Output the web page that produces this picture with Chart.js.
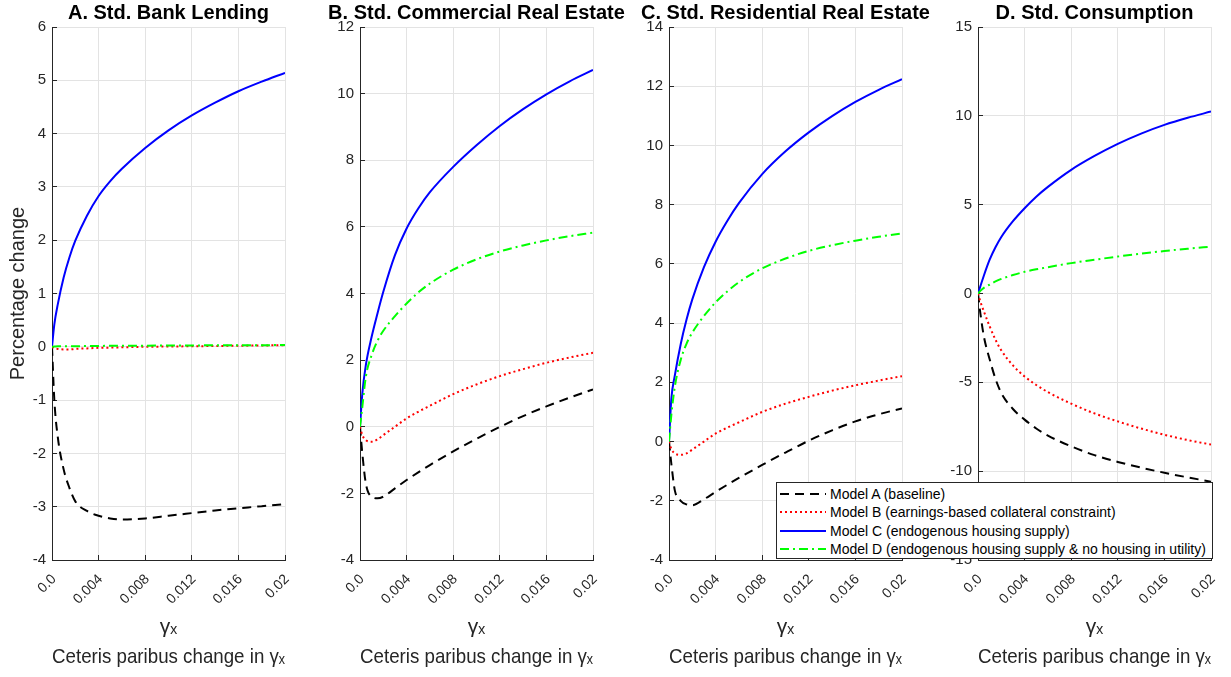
<!DOCTYPE html>
<html>
<head>
<meta charset="utf-8">
<script src="https://cdn.jsdelivr.net/npm/chart.js@4.4.1/dist/chart.umd.min.js"></script>
<style>
  html, body { margin: 0; padding: 0; background: #fff; overflow: hidden; width: 1231px; height: 677px; }
  .panel { position: absolute; top: 0; }
  #legend {
    position: absolute; left: 776px; top: 482px; width: 437px; height: 77px;
    box-sizing: border-box; border: 1px solid #262626; background: #fff;
    padding-top: 2px; font: 14px "Liberation Sans", Arial, sans-serif; color: #000;
  }
  #legend .row { height: 18.3px; display: flex; align-items: center; white-space: nowrap; }
  #legend svg { margin-left: 3px; margin-right: 4px; flex: none; }
</style>
</head>
<body>
<div id="legend"></div>
<script>
// x grid shared by every series (gamma_x)
const gammaX = [0, 0.0002, 0.0005, 0.001, 0.0015, 0.002, 0.003, 0.004, 0.005, 0.006, 0.008, 0.010, 0.012, 0.014, 0.016, 0.018, 0.020];
const xTickValues = [0, 0.004, 0.008, 0.012, 0.016, 0.02];
const xTickLabels = ["0.0", "0.004", "0.008", "0.012", "0.016", "0.02"];

const panelTitles = [
  "A. Std. Bank Lending",
  "B. Std. Commercial Real Estate",
  "C. Std. Residential Real Estate",
  "D. Std. Consumption"
];
const seriesLabels = [
  "Model A (baseline)",
  "Model B (earnings-based collateral constraint)",
  "Model C (endogenous housing supply)",
  "Model D (endogenous housing supply & no housing in utility)"
];
const yMins = [-4, -4, -4, -15];
const yMaxs = [6, 12, 14, 15];
const ySteps = [1, 2, 2, 5];

// A. bank lending
const lendingA = [0, -1.0, -1.7, -2.3, -2.65, -2.9, -3.08, -3.17, -3.22, -3.24, -3.22, -3.17, -3.12, -3.07, -3.03, -2.99, -2.95];
const lendingB = [0, -0.03, -0.04, -0.05, -0.05, -0.04, -0.03, -0.02, -0.015, -0.01, 0, 0.005, 0.01, 0.015, 0.02, 0.025, 0.03];
const lendingC = [0, 0.42, 0.8, 1.3, 1.68, 1.99, 2.46, 2.83, 3.11, 3.34, 3.73, 4.06, 4.34, 4.58, 4.795, 4.975, 5.14];
const lendingD = [0, 0.005, 0.01, 0.01, 0.01, 0.01, 0.015, 0.015, 0.02, 0.02, 0.02, 0.025, 0.025, 0.03, 0.03, 0.03, 0.035];

// B. commercial real estate
const commercialA = [0, -0.8, -1.7, -2.1, -2.15, -2.1, -1.85, -1.6, -1.37, -1.15, -0.74, -0.36, -0.005, 0.32, 0.61, 0.875, 1.12];
const commercialB = [0, -0.25, -0.4, -0.45, -0.38, -0.25, 0.0, 0.25, 0.45, 0.63, 0.98, 1.27, 1.52, 1.73, 1.92, 2.08, 2.22];
const commercialC = [0, 1.0, 1.85, 2.7, 3.4, 4.05, 5.15, 5.95, 6.55, 7.04, 7.8, 8.45, 9.03, 9.535, 9.98, 10.37, 10.71];
const commercialD = [0, 0.6, 1.5, 2.15, 2.58, 2.88, 3.32, 3.7, 4.03, 4.3, 4.715, 5.025, 5.26, 5.443, 5.595, 5.72, 5.825];

// C. residential real estate
const residentialA = [0, -0.75, -1.65, -2.0, -2.12, -2.15, -1.95, -1.7, -1.46, -1.23, -0.79, -0.37, 0.03, 0.38, 0.68, 0.92, 1.12];
const residentialB = [0, -0.25, -0.4, -0.45, -0.4, -0.27, 0.0, 0.27, 0.47, 0.65, 1.0, 1.28, 1.51, 1.72, 1.9, 2.06, 2.21];
const residentialC = [0, 1.44, 2.23, 3.28, 4.11, 4.8, 5.89, 6.75, 7.45, 8.05, 9.03, 9.8, 10.44, 10.99, 11.47, 11.88, 12.235];
const residentialD = [0, 0.9, 1.85, 2.75, 3.3, 3.68, 4.24, 4.7, 5.07, 5.38, 5.85, 6.18, 6.44, 6.63, 6.785, 6.915, 7.03];

// D. consumption
const consumptionA = [0, -1.1, -2.4, -3.7, -4.8, -5.6, -6.5, -7.1, -7.6, -8.0, -8.6, -9.1, -9.48, -9.8, -10.09, -10.35, -10.59];
const consumptionB = [0, -0.45, -1.0, -1.85, -2.6, -3.2, -4.05, -4.67, -5.15, -5.55, -6.2, -6.75, -7.2, -7.6, -7.95, -8.25, -8.5];
const consumptionC = [0, 0.4, 1.0, 1.9, 2.6, 3.18, 4.07, 4.8, 5.45, 6.0, 6.96, 7.74, 8.42, 9.0, 9.49, 9.89, 10.24];
const consumptionD = [0, 0.15, 0.32, 0.5, 0.68, 0.82, 1.04, 1.22, 1.36, 1.48, 1.71, 1.9, 2.08, 2.24, 2.39, 2.52, 2.64];

const panelSeries = [
  [lendingA, lendingB, lendingC, lendingD],
  [commercialA, commercialB, commercialC, commercialD],
  [residentialA, residentialB, residentialC, residentialD],
  [consumptionA, consumptionB, consumptionC, consumptionD]
];

const seriesColors = ["#000000", "#ff0000", "#0000ff", "#00ff00"];
const seriesDash = [[9, 6], [2, 3], [], [9, 4, 2, 4]];

// canvas placement: each canvas is centred on its plot area (233px wide),
// so the title (full canvas width) sits centred over the plot
const PLOT_W = 233;
const panelBoxes = [
  { left: 0, width: 337, axis: 52 },
  { left: 307, width: 339, axis: 53 },
  { left: 616, width: 339, axis: 53 },
  { left: 948, width: 293, axis: 30 }
];

Chart.defaults.font.family = '"Liberation Sans", Arial, Helvetica, sans-serif';

const AXIS_COLOR = "#262626";
const GRID_COLOR = "#e3e3e3";

function makePanel(i) {
  const box = panelBoxes[i];
  const rightPad = box.width - box.axis - PLOT_W;
  const canvas = document.createElement("canvas");
  canvas.width = box.width;
  canvas.height = 677;
  canvas.className = "panel";
  canvas.style.left = box.left + "px";
  document.body.insertBefore(canvas, document.getElementById("legend"));

  const datasets = panelSeries[i].map((vals, k) => ({
    label: seriesLabels[k],
    data: gammaX.map((x, j) => ({ x: x, y: vals[j] })),
    borderColor: seriesColors[k],
    backgroundColor: seriesColors[k],
    borderDash: seriesDash[k],
    borderWidth: 2,
    pointRadius: 0,
    fill: false,
    cubicInterpolationMode: "monotone",
    order: 4 - k
  }));

  return new Chart(canvas.getContext("2d"), {
    type: "line",
    data: { datasets },
    options: {
      responsive: false,
      animation: false,
      devicePixelRatio: 1,
      layout: { padding: 0 },
      plugins: {
        legend: { display: false },
        tooltip: { enabled: false },
        title: {
          display: true,
          text: panelTitles[i],
          color: "#000",
          font: { size: 20, weight: "bold", lineHeight: 1.2 },
          padding: { top: 1, bottom: 2 }
        }
      },
      scales: {
        x: {
          type: "linear",
          min: 0,
          max: 0.02,
          afterBuildTicks: s => { s.ticks = xTickValues.map(v => ({ value: v })); },
          afterFit: s => { s.height = 117; },
          ticks: {
            autoSkip: false,
            minRotation: 45,
            maxRotation: 45,
            color: AXIS_COLOR,
            font: { size: 14 },
            padding: 16,
            labelOffset: 2,
            callback: (v, idx) => xTickLabels[idx]
          },
          grid: { color: GRID_COLOR, tickColor: AXIS_COLOR, tickLength: -5 },
          border: { color: AXIS_COLOR, width: 1 },
          title: {
            display: true,
            text: ["γₓ", "Ceteris paribus change in γₓ"],
            color: AXIS_COLOR,
            font: { size: 21, lineHeight: 30 / 21 },
            padding: { top: 0, bottom: 5 }
          }
        },
        y: {
          min: yMins[i],
          max: yMaxs[i],
          afterFit: s => { s.width = box.axis; },
          ticks: { stepSize: ySteps[i], color: AXIS_COLOR, font: { size: 15 }, padding: 11 },
          grid: { color: GRID_COLOR, tickColor: AXIS_COLOR, tickLength: -5 },
          border: { color: AXIS_COLOR, width: 1 },
          title: {
            display: i === 0,
            text: "Percentage change",
            color: AXIS_COLOR,
            font: { size: 20, lineHeight: 1.2 },
            padding: { top: 6, bottom: 0 }
          }
        },
        // empty right-hand scale: only reserves space so the plot stays centred
        yPad: {
          position: "right",
          display: true,
          afterFit: s => { s.width = rightPad; },
          ticks: { display: false },
          grid: { display: false },
          border: { display: false }
        }
      }
    }
  });
}

const charts = [0, 1, 2, 3].map(makePanel);

// shared legend drawn over panels C and D (built from the series arrays)
const legendEl = document.getElementById("legend");
seriesLabels.forEach((label, k) => {
  const row = document.createElement("div");
  row.className = "row";
  const dash = seriesDash[k].length ? ` stroke-dasharray="${seriesDash[k].join(" ")}"` : "";
  row.innerHTML =
    `<svg width="46" height="6"><line x1="0" y1="3" x2="46" y2="3" stroke="${seriesColors[k]}" stroke-width="2"${dash}/></svg>` +
    `<span></span>`;
  row.querySelector("span").textContent = label;
  legendEl.appendChild(row);
});
</script>
</body>
</html>
